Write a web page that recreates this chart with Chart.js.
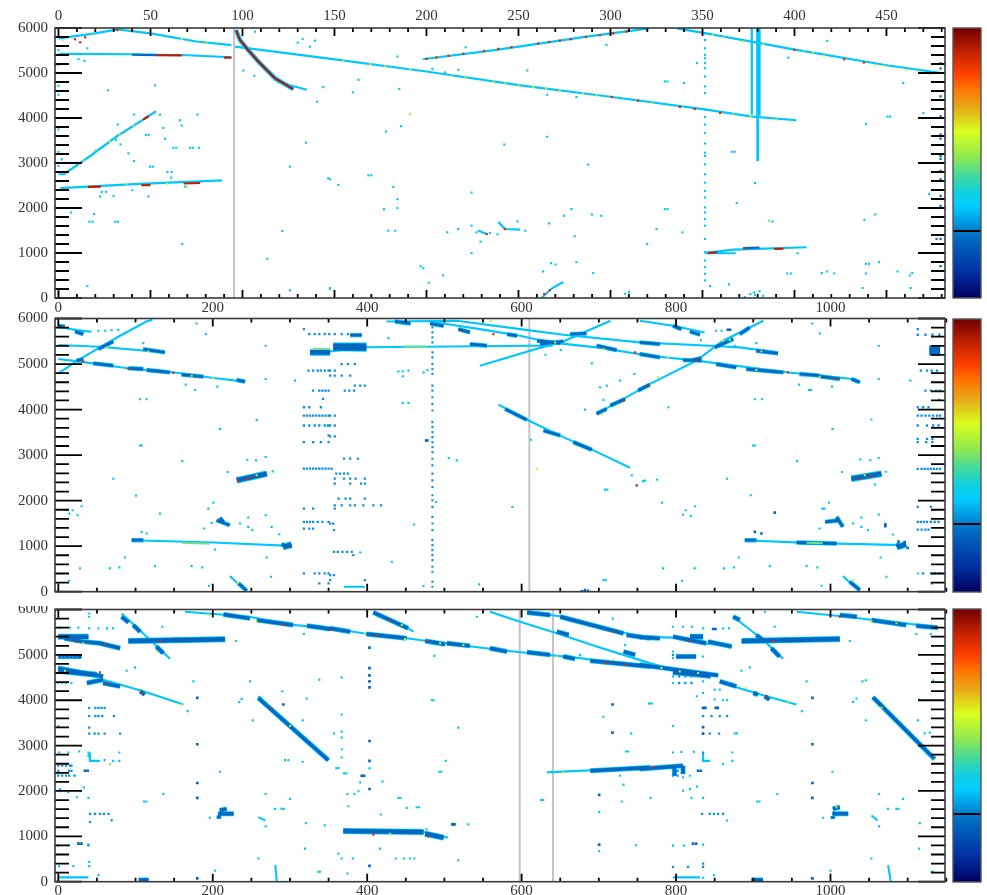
<!DOCTYPE html>
<html><head><meta charset="utf-8">
<style>
html,body{margin:0;padding:0;background:#fff;width:987px;height:895px;overflow:hidden}
canvas{position:absolute;filter:blur(0.45px)}
</style>
<script src="https://cdn.jsdelivr.net/npm/chart.js@4/dist/chart.umd.min.js"></script>
</head><body>
<canvas id="c1"></canvas><canvas id="c2"></canvas><canvas id="c3"></canvas>
<canvas id="b1"></canvas><canvas id="b2"></canvas><canvas id="b3"></canvas>
<script>
/* ---------- axis values ---------- */
const yLabels=[0,1000,2000,3000,4000,5000,6000];
const yMinorTicks=[200,400,600,800,1200,1400,1600,1800,2200,2400,2600,2800,3200,3400,3600,3800,4200,4400,4600,4800,5200,5400,5600,5800];
const x1Labels=[0,50,100,150,200,250,300,350,400,450];
const x1MinorTicks=[10,20,30,40,60,70,80,90,110,120,130,140,160,170,180,190,210,220,230,240,260,270,280,290,310,320,330,340,360,370,380,390,410,420,430,440,460,470,480];
const xLabels=[0,200,400,600,800,1000];
const xMinorTicks=[50,100,150,250,300,350,450,500,550,650,700,750,850,900,950,1050,1100,1150];
const colorbarStops=[[0,'#000060'],[0.095,'#0030a0'],[0.217,'#0068c0'],[0.252,'#0080d0'],[0.34,'#00ccff'],[0.39,'#10d0e0'],[0.45,'#40d8a0'],[0.523,'#90e850'],[0.615,'#d8ff20'],[0.706,'#e8a818'],[0.78,'#ff7000'],[0.83,'#ff4000'],[0.915,'#c02000'],[1,'#700000']];
const colorbarMark=[0.25];

/* ---------- panel 1 (upper x axis units) ---------- */
const p1Grey=[[95.4,0],[95.4,6000]];
const p1Tracks=[[0,5770],[20,5880],[32,5970],[50,5880],[75,5700],[94,5620],null,
 [0,5424],[41,5417],[70,5395],[94,5350],null,
 [0,2750],[3,2750],[17,3150],[32,3600],[46,3965],[53,4150],null,
 [1,2440],[41,2530],[89,2615],null,
 [96,5586],[147,5320],[200,5033],[251,4724],[301,4466],[352,4186],[376,4038],[401,3950],null,
 [198,5306],[238,5513],[287,5807],[321,5992],null,
 [336,5992],[352,5880],[401,5513],[451,5166],[480,4997],null,
 [376.8,6000],[376.8,4075],null,
 [351.4,1002],[367,1076],[406.6,1128],null,
 [351.4,995],[368,995],null,
 [262.5,0],[268,210],[274.3,354],null,
 [239,1695],[242.6,1533],[250.8,1518],null,
 [228,1500],[232.7,1423],null,
 [119,4800],[135,4628]];
const p1Thick=[[380.4,6000],[380.4,4050],null,[96.5,5955],[98.6,5734],[103,5513],[108.6,5255],[117.6,4886],[127.6,4643]];
const p1Stem=[[380,4050],[380,3044]];
const p1Curve=[[96.5,5955],[98.6,5734],[103,5513],[108.6,5255],[117.6,4886],[127.6,4643]];
const p1BlueRuns=[[40,5405],[53,5398],null,[372,1110],[381,1120]];
const p1RedRuns=[[53,5395],[67,5390],null,[90,5340],[94,5340],null,[16,2470],[23,2475],null,[45,2505],[50,2510],null,[68,2545],[77,2555],null,[46,3965],[49,4040],null,[353,1000],[358,1017],null,[389,1090],[394,1095]];
const p1Red=[[200,5317],[205.5,5347],[211.9,5382],[220,5427],[231.2,5490],[239,5535],[246.2,5574],[260.7,5655],[266.7,5689],[272.5,5719],[278.3,5751],[286.6,5800],[294.2,5840],[301.5,5881],[308.7,5921],[300.6,4466],[315,4385],[337.7,4245],[345.8,4200],[400,5513],[427,5306],[437.7,5233],[359.6,4112],[9,5750],[11.8,5682],[14.5,5793],[32,5955],[242.6,1533],[232.7,1423],[373.1,1105],[264,90],[267,170]];
const p1Yellow=[[154.8,5277],[169.3,5196],[177.5,5144],[191,5085],[213.7,4938],[221,4894],[236.3,4805],[242.6,4768],[250,4731],[258,4687],[265,4650],[272.5,4613],[285,4540],[292.4,4503],[322.3,4333],[355.6,5844],[361.4,5793],[372.2,5697],[383,5638],[405,5469],[410,5440],[416,5387],[443.7,5181],[449,5159],[461,5071],[467.3,5034],[473.6,4982],[366.8,4076],[376,4030],[390,3965],[2.7,5734],[18,5844],[38,5970],[50,5880],[67,5756],[80.5,5660],[4.5,2820],[13.5,3070],[20,3290],[28,3470],[33.5,3620],[40.7,3840],[37,2540],[59,2540],[70,2465],[191,4090],[386.2,1717]];
const p1Dots=[[0,5513],[0,5181],[0,4997],[0,4717],[0,4518],[27,4614],[52.5,4724],[10.9,5306],[14.1,5270],[15.7,5550],[0,3744],[0,3243],[1.8,3081],[0,2933],[23.5,2358],[25.9,2358],[22.6,2255],[29.9,2270],[40.2,2395],[48.9,2255],[6.7,1901],[19.4,1865],[16.8,1695],[18.5,1695],[30.8,1695],[32.3,1695],[67.3,1201],[113.5,870],[121.6,1489],[125.8,170],[15.7,265],[0,96],[100.5,5056],[106.4,4938],[143.9,4687],[140.6,4363],[130,5675],[132.7,5756],[136.7,5586],[139.4,5719],[106.8,5918],[125.8,2918],[134.5,3449],[146.6,2661],[147.5,206],[32.2,3854],[41.1,4076],[55.2,4076],[66,3950],[75.5,4076],[67,3832],[57,3781],[57.9,3538],[62.4,3339],[64,3339],[71.5,3339],[73,3339],[76.4,3339],[38,3213],[41,3044],[49.8,2918],[51.3,2918],[59.2,2801],[61.5,2801],[61.2,2675],[68.8,2476],[31.3,3508],[33.7,3412],[47.6,3626],[49,3626],
 [184.2,5365],[163,4849],[160,4569],[185.2,4643],[203.2,5093],[210,5012],[217.3,5071],[221.3,5572],[297.8,5623],[254.8,5056],[329.5,4813],[331,4813],[340,4776],[347,5218],[265.6,4518],[281.5,4466],[191,4090],[186.2,3818],[178,3700],[242.3,3412],[265.6,3582],[287.9,2963],[168.4,2727],[170,2727],[152.1,2513],[147.6,2638],[182,2469],[184.2,2196],[184.2,1997],[176.9,1975],[179.3,1496],[183,1496],[211.3,1459],[217.3,1533],[224.5,2344],[224.5,1607],[227.2,1459],[229.4,1253],[234.5,1445],[238.6,1415],[249.5,1702],[253.7,1496],[266.7,1658],[274.8,1828],[278.8,1975],[289.9,1857],[295,1828],[280.6,1371],[263.4,590],[267.6,774],[270.1,744],[281.5,796],[290.6,553],[307.8,96],[310.1,133],[325,1533],[339.1,1459],[329.5,1975],[331,1975],[319.9,1201],[224.5,995],[196.8,707],[198.3,663],[209.1,501],[201.2,339],[147.6,221],
 [417.8,5712],[396.7,5343],[459.1,4776],[470,4112],[450.6,4031],[452,4031],[438.8,3869],[473.2,2307],[443.9,1857],[438,1739],[378.6,2557],[368.6,2108],[386.2,1717],[388,1700],[365.9,3250],[367.5,3250],[401.7,995],[396.1,545],[398,545],[438.8,759],[440.5,759],[445.9,796],[414.8,553],[417.8,590],[421.6,545],[438.8,545],[456,590],[464,553],[462.7,501],[437,221],[463.1,221],[354.1,265],[364.4,302],[373,20],[376,90],[378,120],[381,150],[383,50],[378.6,60]];
const p1BlueDots=[[479.4,5218],[479.4,5100],[479.4,4481],[479.4,4039],[479.4,3633],[479.4,3540],[479.4,3154],[479.4,3090],[479.4,2823],[479.4,2638],[479.4,2270],[479.4,2049],[477.2,1312],[479.4,1312],[479.4,707]];
const p1DottedX=[351.4];
const p1DottedY=[5881,5734,5550,5403,5329,5218,5108,4923,4702,4555,4186,4024,3855,3671,3434,3228,3154,2970,2749,2565,2381,2234,2013,1902,1754,1607,1312,1017,833,686,538,391];

/* ---------- panel 2 (lower x axis units) ---------- */
const p2Grey=[[610,0],[610,6000]];
const p2Tracks=[[0,4796],[28,5110],[54,5366],[80,5621],[114,5935],[122,5970],null,
 [0,5417],[54,5380],[138,5256],null,
 [0,5818],[24,5745],[43,5709],null,
 [0,5110],[28,5052],[97,4891],[149,4818],[201,4694],[242,4614],null,
 [95,1131],[201,1080],[300,1007],null,
 [222,343],[244,0],null,
 [328,5230],[400,5370],[611,5400],[640,5400],null,
 [516,5950],[598,5767],[654,5643],[753,5475],[844,5402],[882,5366],[932,5256],null,
 [481.5,5935],[546,5767],[598,5621],[637,5475],[697,5366],[766,5183],[826.4,5074],[943,4818],[1029,4672],[1038,4621],null,
 [546,4964],[611,5292],[654,5497],[715,5950],null,
 [697.4,3906],[766.4,4563],[826.4,5074],[861,5512],[913,5950],null,
 [570,4110],[609,3760],[654,3395],[693,3103],[740.5,2723],null,
 [753,5950],[796,5840],[837,5694],null,
 [889,1131],[969,1073],[1094,1022],null,
 [1016,343],[1038,0],null,
 [370,110],[397,110],null,[425,5935],[516,5950]];
const p2BlueRuns=[[0,5840],[8.6,5818],null,[21.6,5716],[32.4,5658],null,[23.7,5074],[32.4,5110],null,[51.8,5329],[71.2,5497],null,[110,5329],[138,5256],null,[45.3,5015],[71.2,4964],null,[90.7,4906],[110,4891],null,[114.4,4869],[144.6,4818],null,[159.7,4767],[187.8,4723],null,[231,4650],[241.8,4614],null,[95,1131],[110,1131],null,[289,1037],[302,985],null,[233,190],[244,20],null,
 [205,1570],[222,1460],null,[209,1620],[214,1530],null,
 [436,5935],[456,5891],null,[481.5,5891],[499,5840],null,[518,5767],[533,5694],null,[581,5657],[594,5621],null,[620,5511],[650,5460],null,[663,5657],[684,5672],null,[697,5402],[723,5307],null,[533,5438],[555,5402],null,[378,5635],[393,5635],null,
 [578.6,4015],[606.7,3774],null,[628.3,3540],[649.9,3431],null,[667,3285],[691,3117],null,[624,5438],[654,5497],null,
 [697,3906],[710,4015],null,[715,4088],[734,4234],null,[751,4417],[766,4548],null,[818,5074],[833,5132],null,[850,5366],[874,5548],null,[882.5,5658],[895.5,5804],null,
 [753,5220],[779,5147],null,[809,5088],[833,5074],null,[852,5000],[878,4928],null,[891,4891],[939,4818],null,[960,4782],[986,4745],null,[986,4730],[1012,4672],null,[1027,4672],[1038,4600],null,
 [753,5475],[779,5438],null,[904,5292],[932,5234],null,[796,5840],[807,5767],null,[818,5716],[831,5643],null,
 [889,1131],[904,1131],null,[956,1080],[1008,1058],null,[1085,1022],[1096,1022],null,[1025,219],[1038,36],null,
 [993,1533],[1012,1569],null,[1008,1642],[1016,1424]];
const p2WideRuns=[[231,2446],[270,2592],null,[1027,2482],[1066,2591],null,[326,5256],[352,5256],null,[356,5400],[399,5400],null,[356,5350],[399,5340],null,[1128,5250],[1142,5250],null,[1128,5340],[1142,5340],null,[291,980],[302,1040],null,[1086,980],[1098,1040]];
const p2YellowRuns=[[160,1073],[196,1055],null,[447,5385],[477,5385],null,[969,1073],[990,1065],null,[330,5330],[352,5330]];
const p2Red=[[32.4,5052],[90.7,4891],[149,4803],[244,2482],[233,2446],[250,2518],[749,2336],[732,4198],[524.7,5730],[563.5,5657],[747,5256],[826.4,5088],[945,4818],[1007.7,4672],[1038,2482],[1053,2533],[763.8,4526]];
const p2Yellow=[[172.7,4745],[200.7,4694],[256.9,2555],[62.6,5366],[116.6,5278],[233,197],[619.7,2701],[704,3891],[643.4,5475],[706,5329],[861,5512],[904,4869],[986,4723],[1044.4,2555],[776.7,4708],[910.6,5278],[789.7,5146],[869.6,5526],[560,5945],[1030,250]];
const p2Dots=[[51.8,5731],[60.4,5731],[69,5745],[77.7,5745],[110,5460],[191,5658],[179,5891],[268.5,5402],[165,4548],[177.4,4431],[206,4504],[268.5,4672],[306.5,4636],[105.8,4227],[114.4,4227],[209.4,3577],[256.9,3774],[105.8,3212],[108,3212],[160.6,2869],[71.2,2482],[100.6,2110],[14.2,1716],[25,1679],[18.6,1789],[30.2,1876],[131.7,1716],[86.3,752],[28,511],[67,511],[79,533],[125.2,562],[172.7,562],[186.5,533],[269.8,752],[202.9,927],[194.3,1825],[200.7,1956],[189,1387],[246,1628],[235.3,1497],[246,1424],[251.3,1351],[276.3,1424],[286.2,1263],[268.5,1679],[244.8,2898],[256,2884],[268.5,2957],[219.3,2628],[277.6,2643],[107.9,1314],[114.4,1278],[13.8,241],[195.1,131],[275.4,329],
 [198.6,1511],[427.5,5570],[440.5,4840],[446,4840],[453.4,4855],[446,4730],[473,4818],[478,4869],[446,4146],[453.4,4146],[505.7,2935],[516,2884],[489.3,1971],[460.8,1475],[431.9,657],[391,861],[472.9,124],[545,161],[588,1861],[612,3336],[630.9,5205],[650.7,5307],[690.9,5015],[746,4781],[727.6,4635],[710.3,4526],[701.7,4490],[706,4212],[682.2,4000],[742.7,2555],[749.2,2336],[757.8,2431],[760,2440],[708,2241],[711,2241],[706,255],[709,255],
 [852,5730],[859,5730],[904,5460],[832,5526],[876,5402],[790,4051],[902,4227],[911.4,4227],[976.6,5891],[986,5672],[1062.5,5402],[959.4,4548],[972.3,4431],[975,4431],[1002,4504],[1062.5,4672],[1103.5,4635],[1002.5,3577],[1053,3781],[899.8,3212],[902,3212],[956.8,2869],[866,2482],[896.8,2117],[757.3,2424],[775.4,2460],[1015,2628],[1038.8,2905],[1051.7,2884],[1062.5,2935],[1071.6,2635],[1057.4,2358],[782,1956],[809,1694],[819,1664],[812.6,1789],[824.7,1876],[989.6,1825],[992,1825],[997.8,1956],[986,1387],[1029.3,1497],[1040,1628],[1040,1424],[1048.7,1351],[1062.5,1694],[1081,1256],[881.2,752],[1065,752],[783,511],[824,511],[862.2,511],[875,533],[921.4,562],[969,562],[983,533],[1072.5,329],[807.8,241],[988.3,131],[1113.5,401]];
const p2BlueDots=[[476.3,3321],[478,3321],[867,5752],[870,5752],[927.8,1737],[902,1314],[910.6,1278],[1071,1438],[1071,1480],[682,36],[686,20],[678,10],[1088,1100],[1096,1090],[1100,960]];
const p2Rows=[[5767,318],[5658,325,332,338,345,351,358,367,375],[5000,367,375,384],[4855,324,330,336,340,345,350,352,358],[4745,352,358,367,378],[4417,330,338,342,346,350,371,377,383],[4526,384,391,397],[4234,343],[4051,318,325,340],[3869,318,322,326,330,334,338,342,346,350,352,358],[3650,318,325,332,338,345,349,352,358],[3409,352,358],[3431,350],[3285,318,330,340,350],[2701,318,322,326,330,334,338,342,346,350,354],[2591,360,365,370,375],[2482,358,370,378,385,397],[2372,358,378,392,397],[2920,370,378,388],[1825,318,330,358],[2044,363,372,378,397],[1898,358,367,378,384,395,408,418],[1533,318,322,326,330,336,342,350],[1387,318,325,330],[1496,352,356],[1350,357],[876,357,362,368,374,380],[803,382],[401,318,332,338,345,350],[365,352,357],[255,352,397],[182,338,350],
 [5767,1113],[5643,1113,1123,1132,1141],[4855,1117,1125,1131,1138],[4417,1123,1130,1137,1142],[4212,1141],[4051,1113,1120,1127],[3869,1113,1118,1123,1128,1133,1138,1142],[3650,1113,1125,1133,1140],[3358,1113,1125,1132],[3285,1113,1124,1132],[2700,1113,1118,1122,1126,1130,1134,1138,1142],[1862,1113,1130],[1533,1113,1117,1121,1125,1130,1135,1140],[1365,1113,1118,1123,1127],[401,1120,1130,1135,1141],[182,1131]];
const p2DottedX=[484.5];
const p2DottedY=[5804,5694,5585,5475,5256,5147,5000,4891,4782,4526,4417,4271,4125,3979,3723,3614,3504,3395,3285,3176,3066,2920,2774,2592,2446,2300,2117,2008,1862,1643,1497,1351,1132,1022,913,803,694,548,438,219,110];

/* ---------- panel 3 (lower x axis units) ---------- */
const p3Grey=[[597.5,0],[597.5,6000],null,[640.6,0],[640.6,6000]];
const p3Tracks=[[0,5402],[32.4,5292],[54,5256],[80,5146],null,
 [90.7,5307],[216,5344],null,
 [82,5913],[112,5438],[144.6,4913],null,
 [0,4745],[32.4,4614],[58,4453],[110,4198],[162,3905],null,
 [259,4088],[349.7,2679],null,
 [164,5950],[248,5840],[296,5672],[352,5585],[395,5475],[451,5366],[499,5256],[589.4,5074],[676,4928],[719,4818],[766,4745],[854.5,4563],null,
 [408,5950],[453,5585],[460,5510],null,
 [559,5950],[598,5730],[645.6,5475],[697,5183],[766,4818],[796,4672],[854.5,4563],null,
 [607,5950],[654,5840],[719,5548],[753,5402],[796,5380],[818,5292],[870,5183],null,
 [369,1117],[473,1095],[505,971],null,
 [632.6,2409],[766,2518],[809,2555],null,
 [874,5840],[913,5329],[938.6,4913],null,
 [885,5307],[1012,5351],null,
 [956,5950],[1021,5840],[1064,5745],[1098,5694],[1139,5600],null,
 [1055,4066],[1135,2701],null,
 [856.6,4417],[878,4285],[917,4088],[956,3905],null,
 [0,95],[39,95],null,[796,95],[831,95],null,[281,365],[283,0],null,[1074.6,365],[1078,0],null,[1053,1460],[1061,1350],null,[259,1423],[268,1350],null,[40,2847],[41,2664],[54,2664],null,[835,2847],[835,2664],[844,2664]];
const p3BlueRuns=[[8,5365],[32,5292],[54,5256],[80,5146],null,[82,5840],[91,5716],null,[97,5657],[106,5510],null,[127,5183],[136,5037],null,
 [0,4708],[58,4526],null,[37,4380],[58,4453],null,[58,4380],[80,4307],null,[106,4198],[112,4125],null,
 [259,4051],[349.7,2679],null,[214,5891],[248,5804],null,[257,5767],[304,5658],null,[322,5643],[352,5570],null,
 [352,5585],[378,5511],null,[399,5460],[451,5366],null,[475,5307],[501,5234],null,[503,5256],[533,5198],null,[559,5146],[581,5073],null,[607,5059],[637,5000],null,[654,4964],[669,4913],null,[689,4869],[766,4745],null,
 [408,5935],[453,5585],null,[645.6,5511],[661,5438],null,[732,5073],[747,5000],null,
 [607,5935],[637,5877],null,[650,5840],[732,5475],null,[736,5438],[766,5366],null,[753,5387],[779,5366],null,[796,5402],[839,5256],null,[841.5,5292],[872,5183],null,
 [689,2445],[766,2518],null,[753,2482],[809,2555],null,[798,2555],[798,2336],null,[809,2555],[809,2372],null,
 [874,5840],[882.5,5767],null,[904,5438],[915,5292],null,[923.5,5147],[934,4964],null,
 [1012,5877],[1034,5840],null,[1053,5767],[1098,5658],null,[1111,5643],[1139,5600],null,[1055,4066],[1135,2701],null,
 [753,4781],[854.5,4548],null,[856.6,4417],[878,4307],null,[900,4161],[906,4125],null,[915,4088],[921,4015],null,
 [207,1497],[227,1497],null,[209,1570],[218,1606],null,[208,1387],[208,1460],null,[1002.5,1497],[1023,1497],null,[1003,1606],[1012,1642],null,[1003,1387],[1003,1440],null,
 [104,36],[117,36],null,[897.6,36],[912.7,36],null,[0,4964],[30,4964],null,[800,4964],[826,4964]];
const p3WideRuns=[[90.7,5307],[216,5344],null,[885,5307],[1012,5351],null,[369,1117],[473,1095],null,[475,1058],[499,971],null,[0,5400],[39,5400],null,[818,5402],[835,5402],null,[0,4650],[50,4560],null,[796,4620],[845,4540]];
const p3Red=[[22.9,5292],[60.4,5234],[131.7,5292],[54,4614],[62.6,4380],[108,4161],[276.3,3818],[291.4,5658],[429.7,5767],[412.4,5438],[477,5307],[408,1037],[479.4,1000],[710.3,4818],[734,4781],[719,5512],[354,5548],[925.7,5307],[815.6,5307],[770.3,2518],[1012,5840],[917,4088]];
const p3Yellow=[[32.4,5256],[8.6,4650],[256.9,5730],[194.3,5877],[67,2591],[300,3431],[159.7,3905],[127.4,5073],[429.7,1059],[654,2409],[397.3,5460],[449,5351],[494.5,5256],[524.7,5220],[645.6,4964],[719,4891],[444.8,5657],[828.5,4599],[1133,5600],[1066,3832],[1135,2701],[1007.7,1642],[1085.4,5694],[1053,5745],[781,4708],[804.8,4635],[891,4270],[945,3942]];
const p3Dots=[[40,5913],[40,5840],[2,5600],[15,5600],[26,5600],[40,5585],[52,5585],[63,5585],[71,5585],[0,4380],[5,4380],[10,4380],[17,4380],[0,3431],[1,2847],[13,2847],[27,2869],[39,2847],[79,2847],[39,2774],[60,2679],[67,2591],[71,2664],[79,2664],[2,2044],[2,1993],[13,1971],[24,1861],[33,2080],[39,1847],[28,1993],[26,840],[39,818],[1,343],[19.4,343],[40,438],[40,343],[52,146],
 [136,1934],[175,4416],[111,1767],[114,1767],[209.4,2424],[203,241],[196.4,1409],[268.5,1219],[280.6,1606],[289,1606],[292,1606],[300,1825],[268.5,1934],[259,511],[293.6,2679],[298,2679],[316.4,2643],[320.8,1292],[345,1241],[319.5,730],[336.7,219],[339,219],[338,4453],[321.6,4037],[316.4,3555],[237.4,4030],[234.4,3957],[251.7,3555],[248.2,4416],[290,4198],[134.7,5621],[230,5307],[88.5,4650],[99.3,4723],[167.5,3760],[318,5460],
 [367,4504],[367,3686],[367,3307],[367,3175],[367,2920],[367,2737],[357,3270],[403,2497],[374.4,182],[360,2504],[363,2504],[370,2387],[373,2387],[391,2190],[388.7,1993],[383.5,1934],[374.4,1934],[419.8,2212],[375.7,1664],[440.5,1847],[443,1847],[451.3,1628],[464,1642],[467,1642],[417.6,1482],[416.8,730],[362.8,620],[367,511],[381.4,511],[437,511],[447.8,511],[455.6,511],[461.2,511],[518,474],[477,1153],[531,1263],[483.7,4000],[486,4000],[487,4979],[518,3395],[501.8,2664],[493.6,2424],[496,2424],[625.3,1803],[628,1803],[542,5840],
 [700.4,1533],[700.4,672],[729.7,1767],[732,2139],[727.6,2336],[748.3,803],[706,3635],[742,3270],[735.3,2869],[738,2869],[718,5800],[675.8,5000],[734,5220],[765,3927],
 [796,5621],[809,5621],[820.8,5621],[835,5585],[861,5585],[868.7,5585],[796,5074],[796,4928],[835,4964],[796,4526],[796,4380],[835,4417],[835,4161],[850,4234],[856.6,4234],[850,4015],[861,4000],[866,4000],[827,4088],[766,3927],[769,3927],[796,3431],[876,3270],[879,3270],[796,2847],[807,2862],[823,2862],[861,2591],[873,2847],[873,2664],[817.8,2336],[809,2300],[809,2008],[818,2044],[827,2095],[767,1847],[820,1847],[835,1847],[866,1350],[796,796],[810.4,796],[835,818],[849,146],[835,88],
 [884.7,4650],[895.5,4723],[927.8,5621],[915,5950],[963,3760],[969,4416],[931,1934],[905,1767],[908,1767],[1002.5,2424],[1000,241],[990.4,1409],[1025,5307],[1029.3,3964],[1033.6,4037],[1041.4,4416],[1045.7,4438],[1045.7,3555],[1063,1934],[1074.6,1606],[1085.4,1606],[1088,1606],[1094,1825],[1063,1219],[1115.6,1292],[1053,511],[1114.8,730],[1130.7,219],[1133,219],[1133,4431],[1113.5,3555],[1115,4015],[1128.6,3285],[1122,3270],[1111.3,5460],[1130,5460]];
const p3BlueDots=[[403,5161],[403,4708],[403,4548],[403,4417],[403,4285],[403,3102],[403,2664],[403,2044],[403,350],[393,2336],[396,2336],[510.4,1263],[513,1263],[700.4,1912],[700.4,818],[717.7,3906],[717.7,3285],[180,4051],[180,3030],[180,2175],[180,1847],[180,73],[291.4,3906],[976.6,4051],[976.6,3030],[976.6,2175],[976.6,1847],[976.6,73],[848,5570],[851,5570],[26,840],[30,840],[822,840],[826,840],[828.5,2445],[832,2445],[34.5,2445],[38,2445],[835,3832],[838,3832],[851.4,3832],[854,3832],[835,3409],[835,3263]];
const p3Rows=[[3832,40,48,52,56,60],[3650,40,48,52,57,72],[3395,40],[3263,40,47,52,60,80],[2560,0,5,10,15,17],[2445,0,14,17],[2336,0,5,10,14,21],[1496,41,47.5,54,59,65],[1314,41],[1350,69],[803,0,14,39],[4964,4,9,14,19,24],
 [5000,796,802],[4526,804,812,820],[4380,804,812,820],[3650,835,846,856.6,866],[3263,843.7,855.7],[2845,835],[1496,833.7,843.7,849,854.4,861],[2445,796,802],[2336,796,802],[400,835],[328,796,815.6,835]];

/* ---------- drawing ---------- */
const CYAN='#00c6ff',BLUE='#0468c0',DARKRED='#b01000',RED='#e02a00',YEL='#c8f028';
const toXY=p=>p?{x:p[0],y:p[1]}:{x:NaN,y:NaN};
const rowsToXY=rows=>rows.flatMap(r=>r.slice(1).map(x=>({x,y:r[0]})));
const colToXY=(xs,ys)=>ys.map(y=>({x:xs[0],y}));
const lineDs=(d,color,w,xID)=>({type:'line',data:d.map(toXY),borderColor:color,borderWidth:w,pointRadius:0,tension:0,spanGaps:false,borderCapStyle:'butt',borderJoinStyle:'miter',xAxisID:xID,yAxisID:'y',fill:false});
const dotDs=(d,color,r,xID)=>({type:'scatter',data:d[0]&&Array.isArray(d[0])?d.map(toXY):d,backgroundColor:color,borderWidth:0,pointStyle:'rect',pointRadius:r,pointHoverRadius:r,xAxisID:xID,yAxisID:'y'});

function tickMarks(xId,xMajor,xMinor){
 return {id:'tickMarks',afterDatasetsDraw(ch){
  const c=ch.ctx,a=ch.chartArea,X=ch.scales[xId],Y=ch.scales.y;
  c.save();c.strokeStyle='#000';c.lineWidth=1.8;c.beginPath();
  const yt=(v,l)=>{const p=Y.getPixelForValue(v);c.moveTo(a.left,p);c.lineTo(a.left+l,p);c.moveTo(a.right,p);c.lineTo(a.right-l,p);};
  const xt=(v,l)=>{const p=X.getPixelForValue(v);c.moveTo(p,a.top);c.lineTo(p,a.top+l);c.moveTo(p,a.bottom);c.lineTo(p,a.bottom-l);};
  yLabels.forEach(v=>yt(v,27));yMinorTicks.forEach(v=>yt(v,14));
  xMajor.forEach(v=>xt(v,8));xMinor.forEach(v=>xt(v,4));
  c.stroke();
  c.strokeStyle='#3a3a3a';c.lineWidth=1.6;c.strokeRect(a.left,a.top,a.right-a.left,a.bottom-a.top);
  c.restore();
 }};
}
const noPad=s=>{s.paddingLeft=s.paddingRight=s.paddingTop=s.paddingBottom=0;};
const tickFont={family:'"Liberation Serif",serif',size:15};
function axis(pos,min,max,vals,h,show,pad){
 return {type:'linear',position:pos,min,max,display:true,
  border:{display:false},grid:{display:false,drawTicks:false},
  afterBuildTicks:s=>{s.ticks=vals.map(value=>({value}));},
  afterFit:s=>{s.height=h;noPad(s);},
  ticks:{display:show,autoSkip:false,maxRotation:0,minRotation:0,padding:pad,color:'#333',font:tickFont,callback:v=>String(v)}};
}
function yAxis(){
 return {type:'linear',position:'left',min:0,max:6000,
  border:{display:false},grid:{display:false,drawTicks:false},
  afterBuildTicks:s=>{s.ticks=yLabels.map(value=>({value}));},
  afterFit:s=>{s.width=55;noPad(s);},
  ticks:{autoSkip:false,padding:7,color:'#333',font:tickFont,callback:v=>String(v)}};
}
function place(id,l,t,w,h){const c=document.getElementById(id);c.width=w;c.height=h;c.style.left=l+'px';c.style.top=t+'px';c.style.width=w+'px';c.style.height=h+'px';return c;}
function panel(id,top,height,padTop,padBottom,datasets,scales,marks){
 new Chart(place(id,0,top,952,height),{type:'scatter',data:{datasets:datasets.slice().reverse()},
  options:{responsive:false,animation:false,devicePixelRatio:1,events:[],
   layout:{autoPadding:false,padding:{top:padTop,bottom:padBottom,left:0,right:7}},
   plugins:{legend:{display:false},tooltip:{enabled:false},title:{display:false}},
   scales:Object.assign({y:yAxis()},scales)},
  plugins:[marks]});
}
const XMIN=-4.3,XMAX=1148.3;

panel('c1',0,312,0,0,[
 lineDs(p1Grey,'#c4c4c4',2,'xT'),
 dotDs(colToXY(p1DottedX,p1DottedY),CYAN,1.5,'xT'),
 lineDs(p1Thick,CYAN,4.5,'xT'),
 lineDs(p1Stem,CYAN,2.8,'xT'),
 lineDs(p1Tracks,CYAN,2.2,'xT'),
 lineDs(p1Curve,DARKRED,2,'xT'),
 lineDs(p1BlueRuns,BLUE,2.2,'xT'),
 lineDs(p1RedRuns,'#c01c00',2.2,'xT'),
 dotDs(p1Dots,CYAN,1.5,'xT'),
 dotDs(p1BlueDots,BLUE,1.6,'xT'),
 dotDs(p1Yellow,YEL,1.4,'xT'),
 dotDs(p1Red,RED,1.6,'xT')
],{xT:axis('top',-1.9,481.8,x1Labels,28,true,3),xB:axis('bottom',XMIN,XMAX,xLabels,14,true,1)},tickMarks('xT',x1Labels,x1MinorTicks));

panel('c2',312,286,6.5,6.3,[
 lineDs(p2Grey,'#c4c4c4',2,'xB'),
 dotDs(colToXY(p2DottedX,p2DottedY),'#0a90e0',1.5,'xB'),
 lineDs(p2Tracks,CYAN,2.1,'xB'),
 lineDs(p2WideRuns,CYAN,6.5,'xB'),
 lineDs(p2BlueRuns,CYAN,4.4,'xB'),
 lineDs(p2WideRuns,BLUE,4.6,'xB'),
 lineDs(p2BlueRuns,BLUE,2.8,'xB'),
 lineDs(p2YellowRuns,'#70e090',2,'xB'),
 dotDs(p2Dots,CYAN,1.5,'xB'),
 dotDs(rowsToXY(p2Rows),'#0890e4',1.6,'xB'),
 dotDs(p2BlueDots,BLUE,1.8,'xB'),
 dotDs(p2Yellow,YEL,1.4,'xB'),
 dotDs(p2Red,RED,1.5,'xB')
],{xB:axis('bottom',XMIN,XMAX,xLabels,0,false,0)},tickMarks('xB',xLabels,xMinorTicks));

panel('c3',606,289,3.5,0,[
 lineDs(p3Grey,'#c4c4c4',2,'xB'),
 lineDs(p3Tracks,CYAN,2.1,'xB'),
 lineDs(p3WideRuns,CYAN,6,'xB'),
 lineDs(p3BlueRuns,CYAN,5,'xB'),
 lineDs(p3WideRuns,BLUE,4.4,'xB'),
 lineDs(p3BlueRuns,BLUE,3.4,'xB'),
 dotDs(p3Dots,CYAN,1.5,'xB'),
 dotDs(rowsToXY(p3Rows),'#0890e4',1.6,'xB'),
 dotDs(p3BlueDots,BLUE,1.9,'xB'),
 dotDs(p3Yellow,YEL,1.4,'xB'),
 dotDs(p3Red,RED,1.5,'xB')
],{xB:axis('bottom',XMIN,XMAX,xLabels,13.3,true,0)},tickMarks('xB',xLabels,xMinorTicks));

function colorbar(id,top,height){
 new Chart(place(id,952,top,30,height),{type:'bar',
  data:{labels:['z'],datasets:[{data:[[0,1]],barPercentage:1,categoryPercentage:1,borderWidth:0,
   backgroundColor:ctx=>{const a=ctx.chart.chartArea;if(!a)return '#00ccff';
    const g=ctx.chart.ctx.createLinearGradient(0,a.bottom,0,a.top);
    colorbarStops.forEach(s=>g.addColorStop(s[0],s[1]));return g;}}]},
  options:{responsive:false,animation:false,devicePixelRatio:1,events:[],
   layout:{autoPadding:false,padding:1},
   plugins:{legend:{display:false},tooltip:{enabled:false}},
   scales:{x:{display:false},
    y:{min:0,max:1,position:'left',border:{display:false},grid:{z:1,color:'#000',lineWidth:2,drawTicks:false},
     afterBuildTicks:s=>{s.ticks=colorbarMark.map(value=>({value}));},afterFit:s=>{s.width=0;noPad(s);},
     ticks:{display:false}}}},
  plugins:[{id:'barFrame',afterDraw(ch){const c=ch.ctx,a=ch.chartArea;c.save();c.strokeStyle='#555';c.lineWidth=1.4;c.strokeRect(a.left,a.top,a.right-a.left,a.bottom-a.top);c.restore();}}]});
}
colorbar('b1',27,272);
colorbar('b2',318,275);
colorbar('b3',608,275);
</script>
</body></html>
